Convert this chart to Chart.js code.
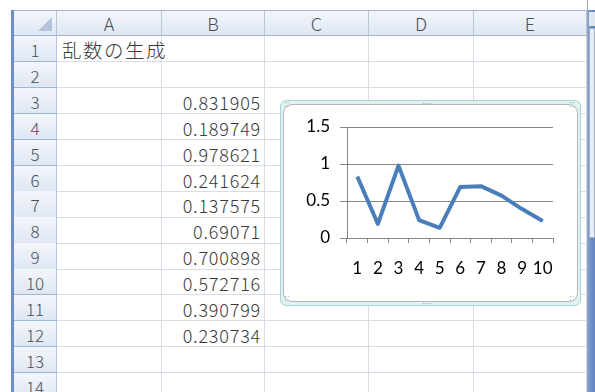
<!DOCTYPE html>
<html>
<head>
<meta charset="utf-8">
<script src="https://cdn.jsdelivr.net/npm/chart.js@4"></script>
<style>
  body { margin: 0; width: 595px; height: 392px; overflow: hidden; background: #fff; position: relative; font-family: "Noto Sans CJK JP", sans-serif; }
  .abs { position: absolute; box-sizing: border-box; }
  .hdr { background: linear-gradient(#f3f6fb, #dfe7f3); color: #4a4f57; font-size: 17px; text-align: center; border-right: 1px solid #b7c6da; border-bottom: 1px solid #9eb6ce; font-weight: 300; }
  .cell { border-right: 1px solid #d6dde9; border-bottom: 1px solid #d6dde9; color: #3a3a3a; font-size: 18px; white-space: nowrap; overflow: visible; font-weight: 300; }
  #frame { left: 280px; top: 100px; width: 301px; height: 206px; background: #e2f2f2; border: 1px solid #a9d3d6; border-radius: 6px; }
  #inner { left: 283px; top: 104px; width: 295px; height: 198px; background: #fff; border: 1px solid #b3b7bc; border-radius: 9px; }
  .dots { color: #8aa; font-size: 8px; line-height: 8px; font-family: "DejaVu Sans"; }
</style>
</head>
<body>
<div id="sheet"></div>
<div class="abs" id="frame"></div>
<div class="abs" id="inner"></div>
<canvas id="myChart" class="abs" style="left:283px;top:104px;width:294px;height:197px"></canvas>
<script>
const title = "乱数の生成";
const columns = ["A", "B", "C", "D", "E"];
const rowLabels = ["1", "2", "3", "4", "5", "6", "7", "8", "9", "10", "11", "12", "13", "14"];
const xValues = ["1", "2", "3", "4", "5", "6", "7", "8", "9", "10"];
const yValues = [0.831905, 0.189749, 0.978621, 0.241624, 0.137575, 0.69071, 0.700898, 0.572716, 0.390799, 0.230734];
const yTicks = [0, 0.5, 1, 1.5];

// spreadsheet grid
let sheet = document.getElementById("sheet");
let colX = [57, 162, 265, 369, 474, 587];
let rowTop = 36, rowH = 25.9;
let html = "";
html += `<div class="abs" style="left:11px;top:10px;width:3px;height:382px;background:#6f8fc4"></div>`;
html += `<div class="abs" style="left:14px;top:10px;width:573px;height:1px;background:#9fb4cf"></div>`;
html += `<div class="abs hdr" style="left:14px;top:11px;width:43px;height:25px"></div>`;
html += `<div class="abs" style="left:38px;top:17px;width:0;height:0;border-left:14px solid transparent;border-bottom:14px solid #b5c4d8"></div>`;
columns.forEach((c, i) => {
  html += `<div class="abs hdr" style="left:${colX[i]}px;top:11px;width:${colX[i + 1] - colX[i]}px;height:25px;line-height:25px;font-size:18px">${c}</div>`;
});
rowLabels.forEach((r, j) => {
  let top = rowTop + j * rowH;
  html += `<div class="abs hdr" style="left:14px;top:${top}px;width:43px;height:${rowH + 0.5}px;line-height:${rowH + 3}px">${r}</div>`;
  for (let i = 0; i < columns.length; i++) {
    html += `<div class="abs cell" style="left:${colX[i]}px;top:${top}px;width:${colX[i + 1] - colX[i]}px;height:${rowH + 0.5}px"></div>`;
  }
});
html += `<div class="abs cell" style="border:0;left:62px;top:${rowTop + 1}px;font-size:19.5px;line-height:25px;letter-spacing:1.5px">${title}</div>`;
yValues.forEach((v, j) => {
  let top = rowTop + (j + 2) * rowH;
  html += `<div class="abs cell" style="border:0;left:162px;top:${top}px;width:99px;text-align:right;line-height:${rowH + 4}px;letter-spacing:0.8px">${v}</div>`;
});
// scrollbar
html += `<div class="abs" style="left:587px;top:0;width:1px;height:392px;background:#9aa7b8"></div>`;
html += `<div class="abs" style="left:588px;top:10px;width:7px;height:382px;background:linear-gradient(90deg,#7f9fd0,#5f82bd)"></div>`;
html += `<div class="abs" style="left:589px;top:28px;width:6px;height:210px;background:#e8edf5;border:1px solid #9fb0c8"></div>`;
html += `<div class="abs" style="left:589px;top:12px;width:6px;height:14px;background:#dfe6f1"></div>`;
sheet.innerHTML = html;

// chart handles
let dots = [
  [284, 101, "::"], [569, 101, "::"], [284, 295, "::"], [569, 295, "::"],
  [422, 98, "...."], [422, 298, "...."]
];
dots.forEach(d => {
  let e = document.createElement("div");
  e.className = "abs dots";
  e.style.left = d[0] + "px";
  e.style.top = d[1] + "px";
  e.textContent = d[2];
  document.body.appendChild(e);
});

new Chart("myChart", {
  type: "line",
  data: {
    labels: xValues,
    datasets: [
      {
        fill: false,
        tension: 0,
        borderColor: "#4a7ebb",
        borderWidth: 4,
        pointRadius: 0,
        borderJoinStyle: "round",
        data: yValues,
      },
    ],
  },
  options: {
    responsive: false,
    animation: false,
    layout: { padding: { left: 0, top: 23, right: 24, bottom: 0 } },
    plugins: { legend: { display: false }, tooltip: { enabled: false } },
    scales: {
      x: {
        offset: true,
        grid: { offset: true, drawOnChartArea: false, color: "#868686", tickLength: 5 },
        border: { color: "#868686" },
        ticks: { color: "#000", padding: 15, maxRotation: 0, autoSkip: false, font: { family: "Lato", size: 17 } },
        afterFit: (s) => { s.height = 63; },
      },
      y: {
        min: 0,
        max: 1.5,
        afterBuildTicks: (s) => { s.ticks = yTicks.map(v => ({ value: v })); },
        grid: { color: "#868686", tickLength: 7 },
        border: { color: "#868686" },
        ticks: { color: "#000", padding: 10, font: { family: "Lato", size: 17 }, callback: (v) => String(v) },
        afterFit: (s) => { s.width = 64; },
      },
    },
  },
});
</script>
</body>
</html>
